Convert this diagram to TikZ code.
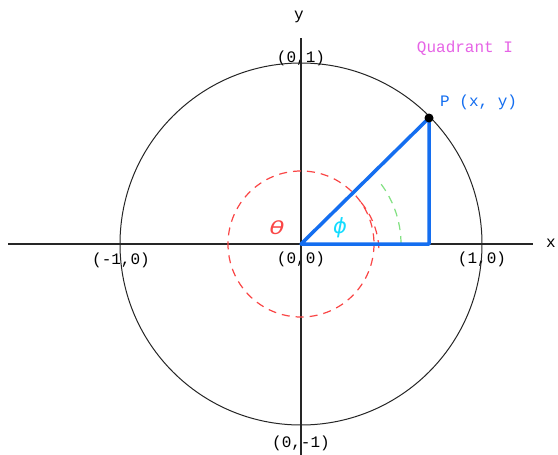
\documentclass[tikz,border=0pt]{standalone}
\usepackage{fontspec}
\newfontfamily\labfont{Liberation Mono}
\newfontfamily\greekfont{DejaVu Sans}
\begin{document}
\begin{tikzpicture}[x=1pt,y=-1pt,
  lab/.style={font=\labfont\fontsize{16}{19}\selectfont, inner sep=0pt, text=black},
  greek/.style={inner sep=0pt, font=\greekfont\itshape\fontsize{18}{20}\selectfont},
  axisline/.style={draw=black!85, line width=1.5pt},
  unitcircle/.style={draw=black!85, line width=1pt},
  tri/.style={draw=triblue, line width=3.5pt, line join=round},
  reddash/.style={draw=redd, line width=1.2pt, dash pattern=on 8pt off 6pt},
  greendash/.style={draw=greend, line width=1.2pt, dash pattern=on 8pt off 6pt}]
\definecolor{triblue}{RGB}{20,110,240}
\definecolor{redd}{RGB}{250,70,70}
\definecolor{greend}{RGB}{130,225,130}
\definecolor{magent}{RGB}{230,100,230}
\definecolor{phicyan}{RGB}{20,220,255}
\useasboundingbox (0,0) rectangle (558,455);
\fill[white] (0,0) rectangle (558,455);
% coordinates
\coordinate (O) at (301,244);
\coordinate (Q) at (429,244);
\coordinate (P) at (429,118);
\coordinate (xl) at (8,244);
\coordinate (xr) at (533,244);
\coordinate (yt) at (301,38);
\coordinate (yb) at (301,455);
% labels
\node[lab] (l00) at (301,259) {(0,0)};
\node[lab] (lm10) at (121,260) {(-1,0)};
\node[lab] (l10) at (482,259) {(1,0)};
\node[lab] (l01) at (301,58) {(0,1)};
\node[lab] (l0m1) at (301,443) {(0,-1)};
\node[lab] (lx) at (551,243) {x};
\node[lab] (ly) at (299,17) {y};
\node[lab, text=magent] (quad) at (465,48) {Quadrant I};
\node[lab, text=triblue, anchor=west] (lp) at (440,102) {P (x, y)};
\node[greek, text=redd, xscale=1.35] (th) at (277,228) {θ};
\node[greek, text=phicyan, font=\greekfont\itshape\fontsize{21}{23}\selectfont] (ph) at (340,228) {ϕ};
% circle and axes
\draw[unitcircle] (O) circle[radius=181];
\draw[axisline] (xl) -- (xr);
\draw[axisline] (yt) -- (yb);
% dashed circle and arcs
\draw[reddash] (O) circle[radius=73];
\draw[reddash] ([shift={(3:78)}]O) arc[start angle=-3, end angle=-42, radius=78];
\draw[greendash] ([shift={(0:100)}]O) arc[start angle=0, end angle=-40, radius=100];
% triangle
\draw[tri] (O) -- (P) -- (Q) -- cycle;
\fill[black] (P) circle[radius=4.5];
\end{tikzpicture}
\end{document}
